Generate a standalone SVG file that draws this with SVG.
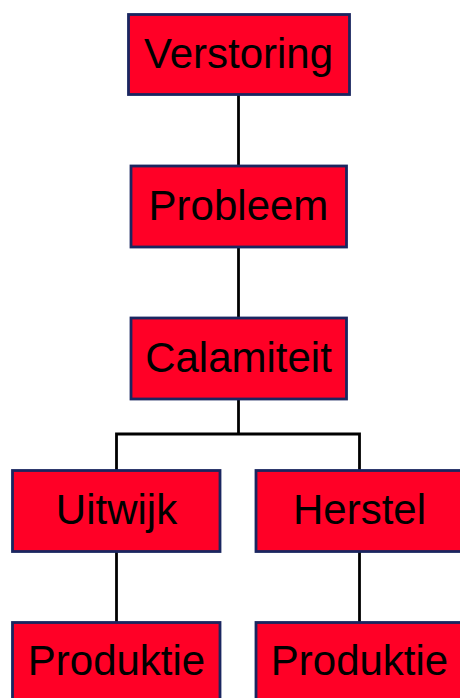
<svg xmlns="http://www.w3.org/2000/svg" width="460" height="698" viewBox="0 0 460 698">
  <style>
    .box { fill: #ff0026; stroke: #1a2660; stroke-width: 2.8; }
    .lbl { font-family: "Liberation Sans", Arial, sans-serif; font-size: 42px; fill: #000; text-anchor: middle; }
    .wire { fill: none; stroke: #000; stroke-width: 2.8; }
  </style>
  <rect width="460" height="698" fill="#fff"/>
  <g id="connectors">
    <line class="wire" x1="238.5" y1="95" x2="238.5" y2="165"/>
    <line class="wire" x1="238.5" y1="247" x2="238.5" y2="317"/>
    <line class="wire" x1="238.5" y1="399" x2="238.5" y2="434"/>
    <polyline class="wire" points="116.5,470 116.5,434 359.5,434 359.5,470"/>
    <line class="wire" x1="116.5" y1="552" x2="116.5" y2="622"/>
    <line class="wire" x1="359.5" y1="552" x2="359.5" y2="622"/>
  </g>
  <g id="verstoring">
    <rect class="box" x="128.5" y="14.5" width="221" height="80"/>
    <text class="lbl" x="238.5" y="68">Verstoring</text>
  </g>
  <g id="probleem">
    <rect class="box" x="131" y="166" width="215.5" height="81"/>
    <text class="lbl" x="238.5" y="220">Probleem</text>
  </g>
  <g id="calamiteit">
    <rect class="box" x="131" y="318" width="215.5" height="81"/>
    <text class="lbl" x="238.5" y="372">Calamiteit</text>
  </g>
  <g id="uitwijk">
    <rect class="box" x="12.5" y="470.5" width="207.5" height="81"/>
    <text class="lbl" x="116.5" y="523.5">Uitwijk</text>
  </g>
  <g id="herstel">
    <rect class="box" x="256" y="470.5" width="210" height="81"/>
    <text class="lbl" x="359.5" y="523.5">Herstel</text>
  </g>
  <g id="produktie-uitwijk">
    <rect class="box" x="12.5" y="622.5" width="207.5" height="90"/>
    <text class="lbl" x="116.5" y="675">Produktie</text>
  </g>
  <g id="produktie-herstel">
    <rect class="box" x="256" y="622.5" width="210" height="90"/>
    <text class="lbl" x="359.5" y="675">Produktie</text>
  </g>
</svg>
